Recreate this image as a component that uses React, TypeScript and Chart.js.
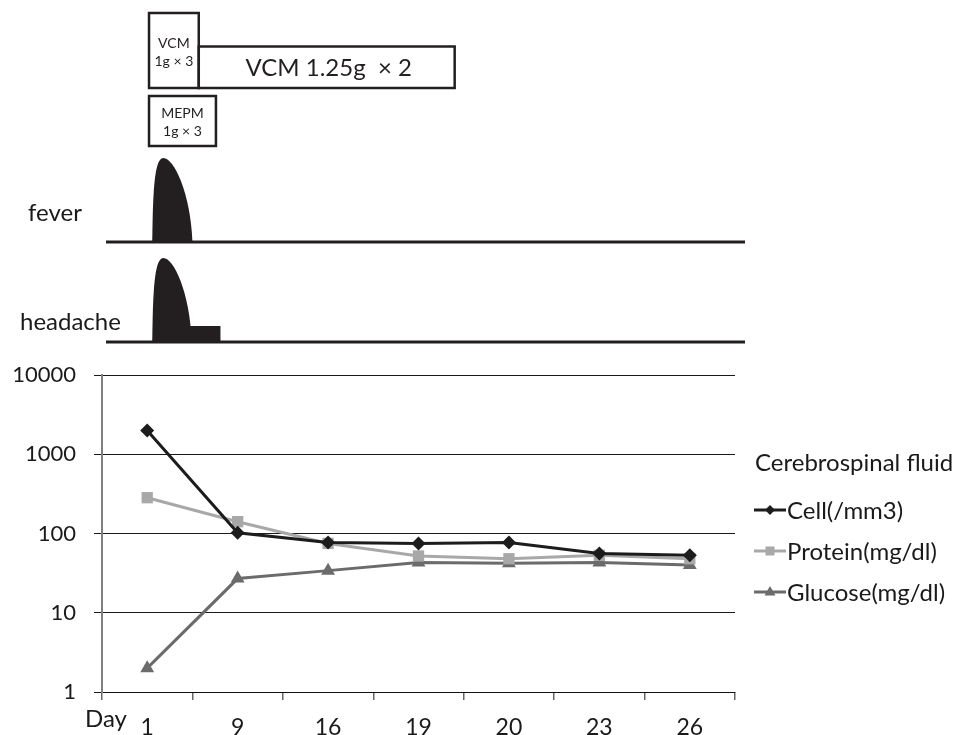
import React, { useEffect, useRef } from "react";
import { Chart, registerables } from "chart.js";
Chart.register(...registerables);

// ---- data ----
const days = ["1", "9", "16", "19", "20", "23", "26"];
const cellValues = [2000, 102, 77, 75, 77, 56, 53];
const proteinValues = [283, 141, 75, 52, 48, 53, 48];
const glucoseValues = [2, 27, 34, 43, 42, 43, 40];
const yTickValues = [1, 10, 100, 1000, 10000];
const seriesNames = ["Cell(/mm3)", "Protein(mg/dl)", "Glucose(mg/dl)"];
const legendTitle = "Cerebrospinal fluid";

// treatment spans, in day-index units on the x axis
const vcmLoadSpan = [0.02, 0.57];
const vcmLoadText = ["VCM", "1g × 3"];
const vcmMainSpan = [0.57, 3.4];
const vcmMainText = "VCM 1.25g  × 2";
const mepmSpan = [0.02, 0.76];
const mepmText = ["MEPM", "1g × 3"];
// symptom course: start, peak, end (index units)
const feverCourse = [0.055, 0.18, 0.5];
const headacheCourse = [0.055, 0.18, 0.47];
const headacheTailEnd = 0.81;

const FONT = "Lato, 'Open Sans', sans-serif";
const INK = "#231f20";

function drawBump(ctx: CanvasRenderingContext2D, x0: number, xp: number, x1: number, base: number, peak: number) {
  const h = base - peak;
  ctx.beginPath();
  ctx.moveTo(x0, base);
  ctx.lineTo(x0 + 0.5, base - h * 0.3);
  ctx.bezierCurveTo(x0 + 1.5, peak + h * 0.22, xp - 7, peak, xp, peak);
  ctx.bezierCurveTo(xp + 10, peak, x1 - 2, peak + h * 0.4, x1, base);
  ctx.closePath();
  ctx.fill();
}

const annotationPlugin = {
  id: "annotations",
  afterDraw(chart: any) {
    const ctx: CanvasRenderingContext2D = chart.ctx;
    const x = chart.scales.x;
    const area = chart.chartArea;
    const px = (v: number) => x.getPixelForValue(v);
    ctx.save();

    // drug boxes
    ctx.strokeStyle = INK;
    ctx.lineWidth = 2.5;
    ctx.fillStyle = INK;
    ctx.textAlign = "center";
    ctx.textBaseline = "middle";
    const box = (span: number[], top: number, bottom: number) => {
      const l = px(span[0]);
      const r = px(span[1]);
      ctx.strokeRect(l, top, r - l, bottom - top);
      return (l + r) / 2;
    };
    let cx = box(vcmMainSpan, 46.5, 88);
    ctx.font = `24px ${FONT}`;
    ctx.fillText(vcmMainText, cx + 2, 68);
    cx = box(vcmLoadSpan, 13, 88);
    ctx.font = `14px ${FONT}`;
    ctx.fillText(vcmLoadText[0], cx, 43);
    ctx.fillText(vcmLoadText[1], cx, 61);
    cx = box(mepmSpan, 96, 146);
    ctx.font = `14px ${FONT}`;
    ctx.fillText(mepmText[0], cx, 113);
    ctx.fillText(mepmText[1], cx, 131);

    // symptom rows
    ctx.fillStyle = INK;
    ctx.strokeStyle = INK;
    ctx.lineWidth = 3;
    const lineL = area.left + 4;
    const lineR = area.right + 10;
    // fever
    ctx.beginPath();
    ctx.moveTo(lineL, 242);
    ctx.lineTo(lineR, 242);
    ctx.stroke();
    drawBump(ctx, px(feverCourse[0]), px(feverCourse[1]), px(feverCourse[2]), 242, 158);
    // headache
    ctx.beginPath();
    ctx.moveTo(lineL, 342);
    ctx.lineTo(lineR, 342);
    ctx.stroke();
    drawBump(ctx, px(headacheCourse[0]), px(headacheCourse[1]), px(headacheCourse[2]) + 2, 342, 258);
    ctx.fillRect(px(headacheCourse[2]) - 4, 326, px(headacheTailEnd) - px(headacheCourse[2]) + 4, 16);

    ctx.font = `24px ${FONT}`;
    ctx.textAlign = "left";
    ctx.fillStyle = "#1a1a1a";
    ctx.fillText("fever", 28, 213);
    ctx.fillText("headache", 20, 322);

    // x axis title "Day"
    ctx.fillText("Day", 85, 719);

    // legend
    ctx.fillText(legendTitle, 755, 463);
    const ys = [510, 551, 592];
    chart.data.datasets.forEach((ds: any, i: number) => {
      const y = ys[i];
      ctx.strokeStyle = ds.borderColor;
      ctx.lineWidth = 3;
      ctx.beginPath();
      ctx.moveTo(754, y);
      ctx.lineTo(786, y);
      ctx.stroke();
      ctx.fillStyle = ds.borderColor;
      const mx = 770;
      ctx.beginPath();
      if (ds.pointStyle === "rectRot") {
        ctx.moveTo(mx, y - 5); ctx.lineTo(mx + 5, y); ctx.lineTo(mx, y + 5); ctx.lineTo(mx - 5, y);
      } else if (ds.pointStyle === "rect") {
        ctx.rect(mx - 4.5, y - 4.5, 9, 9);
      } else {
        ctx.moveTo(mx, y - 6); ctx.lineTo(mx + 5.5, y + 3.5); ctx.lineTo(mx - 5.5, y + 3.5);
      }
      ctx.closePath();
      ctx.fill();
      ctx.fillStyle = "#1a1a1a";
      ctx.fillText(ds.label, 787, y + 1);
    });
    ctx.restore();
  },
};

export default function App() {
  const ref = useRef<HTMLCanvasElement>(null);
  useEffect(() => {
    document.body.style.margin = "0";
    const canvas = ref.current!;
    const chart = new Chart(canvas, {
      type: "line",
      data: {
        labels: days,
        datasets: [
          {
            label: seriesNames[0],
            data: cellValues,
            borderColor: "#1c1c1c",
            backgroundColor: "#1c1c1c",
            borderWidth: 3,
            pointStyle: "rectRot",
            pointRadius: 7,
            pointBorderWidth: 0,
          },
          {
            label: seriesNames[1],
            data: proteinValues,
            borderColor: "#a8a8a8",
            backgroundColor: "#a8a8a8",
            borderWidth: 3,
            pointStyle: "rect",
            pointRadius: 8,
            pointBorderWidth: 0,
          },
          {
            label: seriesNames[2],
            data: glucoseValues,
            borderColor: "#6b6b6b",
            backgroundColor: "#6b6b6b",
            borderWidth: 3,
            pointStyle: "triangle",
            pointRadius: 8,
            pointBorderWidth: 0,
          },
        ],
      },
      options: {
        responsive: false,
        animation: false,
        devicePixelRatio: 1,
        layout: { padding: { left: 0, right: 224, top: 375, bottom: 0 } },
        plugins: { legend: { display: false }, tooltip: { enabled: false } },
        scales: {
          x: {
            type: "category",
            offset: true,
            afterFit: (s: any) => { s.height = 43; },
            grid: {
              offset: true,
              drawOnChartArea: false,
              drawTicks: true,
              tickLength: 8,
              color: "#666",
              lineWidth: 1.5,
            },
            border: { display: true, color: "#111", width: 1 },
            ticks: {
              color: "#1a1a1a",
              font: { family: FONT, size: 23 },
              padding: 14,
              maxRotation: 0,
            },
          },
          y: {
            type: "logarithmic",
            min: 1,
            max: 10000,
            afterFit: (s: any) => { s.width = 102; },
            afterBuildTicks: (s: any) => { s.ticks = yTickValues.map((v) => ({ value: v })); },
            grid: { color: "#1a1a1a", lineWidth: 1, tickLength: 8, drawTicks: true },
            border: { display: true, color: "#808080", width: 2 },
            ticks: {
              color: "#1a1a1a",
              font: { family: FONT, size: 22 },
              padding: 18,
              callback: (v: any) => String(v),
            },
          },
        },
      },
      plugins: [annotationPlugin],
    } as any);
    return () => chart.destroy();
  }, []);
  return <canvas ref={ref} width={959} height={735} style={{ display: "block" }} />;
}
